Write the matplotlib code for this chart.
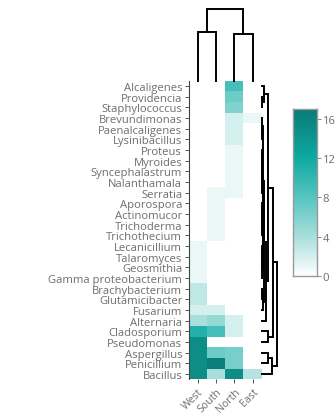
import numpy as np
import matplotlib
matplotlib.use("Agg")
import matplotlib.pyplot as plt
from matplotlib.colors import LinearSegmentedColormap

plt.rcParams['font.family'] = ['Open Sans', 'DejaVu Sans']

# Genus abundance by region
regions = ["West", "South", "North", "East"]
genera = [
    "Alcaligenes", "Providencia", "Staphylococcus", "Brevundimonas",
    "Paenalcaligenes", "Lysinibacillus", "Proteus", "Myroides",
    "Syncephalastrum", "Nalanthamala", "Serratia", "Aporospora",
    "Actinomucor", "Trichoderma", "Trichothecium", "Lecanicillium",
    "Talaromyces", "Geosmithia", "Gamma proteobacterium", "Brachybacterium",
    "Glutamicibacter", "Fusarium", "Alternaria", "Cladosporium",
    "Pseudomonas", "Aspergillus", "Penicillium", "Bacillus",
]
west = [0, 0, 0, 0, 0, 0, 0, 0, 0, 0, 0, 0, 0, 0, 0, 1, 1, 1, 1, 3, 3, 2, 4, 11, 15, 15, 15, 15]
south = [0, 0, 0, 0, 0, 0, 0, 0, 0, 0, 1, 1, 1, 1, 1, 0, 0, 0, 0, 0, 0, 2, 5, 9, 0, 7, 16.5, 4]
north = [9, 7, 6, 2, 2, 2, 1, 1, 1, 1, 1, 0, 0, 0, 0, 0, 0, 0, 0, 0, 0, 0, 2, 2, 0, 6.5, 6.5, 15]
east = [0, 0, 0, 1, 0, 0, 0, 0, 0, 0, 0, 0, 0, 0, 0, 0, 0, 0, 0, 0, 0, 0, 0, 0, 0, 0, 0, 3.5]
cbar_ticks = [0, 4, 8, 12, 16]

data = np.column_stack([west, south, north, east]).astype(float)
vmax = 17.0

cmap = LinearSegmentedColormap.from_list(
    "teal",
    [(0.0, "#ffffff"), (4 / 17, "#a8dfdc"), (8 / 17, "#58c5c0"),
     (12 / 17, "#0eaaa3"), (1.0, "#0b7b75")],
)


def ordered_linkage(X):
    """Complete-linkage clustering that only merges neighbouring clusters."""
    X = np.asarray(X, float)
    D = np.sqrt(((X[:, None, :] - X[None, :, :]) ** 2).sum(-1))
    clusters = [dict(members=[i], pos=i + 0.5, h=0.0) for i in range(len(X))]
    links = []
    while len(clusters) > 1:
        best = None
        for k in range(len(clusters) - 1):
            a, b = clusters[k], clusters[k + 1]
            d = D[np.ix_(a["members"], b["members"])].max()
            if best is None or d < best[0] - 1e-12:
                best = (d, k)
        d, k = best
        a, b = clusters[k], clusters[k + 1]
        links.append((a["pos"], a["h"], b["pos"], b["h"], d))
        clusters[k:k + 2] = [dict(members=a["members"] + b["members"],
                                  pos=(a["pos"] + b["pos"]) / 2, h=d)]
    return links, clusters[0]["h"]


W, H = 336, 414
fig = plt.figure(figsize=(W / 100, H / 100), dpi=100)


def px_axes(l, t, r, b):
    return fig.add_axes([l / W, 1 - b / H, (r - l) / W, (b - t) / H])


label_color = "#6e6e6e"
nrow, ncol = data.shape

# heatmap
ax = px_axes(188.5, 81.7, 261.8, 380.4)
ax.pcolormesh(np.arange(ncol + 1), np.arange(nrow + 1), data,
              cmap=cmap, vmin=0, vmax=vmax, shading="flat")
ax.set_xlim(0, ncol)
ax.set_ylim(nrow, 0)
ax.set_yticks(np.arange(nrow) + 0.5)
ax.set_yticklabels(genera, fontsize=8.1, color=label_color)
ax.set_xticks(np.arange(ncol) + 0.5)
ax.set_xticklabels(regions, fontsize=7.6, color=label_color,
                   rotation=45, ha="right", va="top", rotation_mode="anchor")
for s in ["top", "right", "bottom"]:
    ax.spines[s].set_visible(False)
ax.spines["left"].set_color("#444444")
ax.spines["left"].set_linewidth(0.8)
ax.tick_params(axis="both", length=3, width=0.7, color="#555555", pad=1.5)

# column dendrogram
axt = px_axes(188.5, 10, 261.8, 81.7)
links, root = ordered_linkage(data.T)
for p1, h1, p2, h2, h in links:
    axt.plot([p1, p1, p2, p2], [h1, h, h, h2], color="black", lw=1.4,
             solid_joinstyle="miter", clip_on=False)
axt.set_xlim(0, ncol)
axt.set_ylim(0, root)
axt.axis("off")

# row dendrogram
axr = px_axes(261.8, 81.7, 277, 380.4)
links, root = ordered_linkage(data)
for p1, h1, p2, h2, h in links:
    axr.plot([h1, h, h, h2], [p1, p1, p2, p2], color="black", lw=1.4,
             solid_joinstyle="miter", clip_on=False)
axr.set_ylim(nrow, 0)
axr.set_xlim(0, root)
axr.axis("off")

# colour bar
axc = px_axes(292.5, 110, 316.5, 277)
grad = np.linspace(0, vmax, 256).reshape(-1, 1)
axc.imshow(grad, cmap=cmap, vmin=0, vmax=vmax, aspect="auto",
           origin="lower", extent=[0, 1, 0, vmax])
axc.set_xticks([])
axc.yaxis.tick_right()
axc.set_yticks(cbar_ticks)
axc.set_yticklabels([str(t) for t in cbar_ticks], fontsize=8.1, color=label_color)
axc.tick_params(axis="y", length=3, width=0.7, color="#888888", pad=1.5)
for s in axc.spines.values():
    s.set_color("#999999")
    s.set_linewidth(1.0)

fig.savefig("out.png", dpi=100)
